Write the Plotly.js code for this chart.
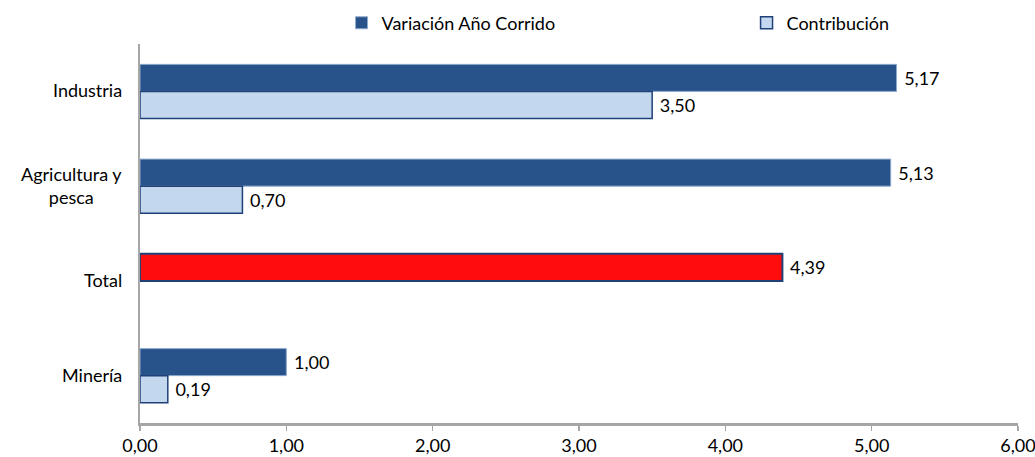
<!DOCTYPE html>
<html>
<head>
<meta charset="utf-8">
<script src="https://cdn.plot.ly/plotly-3.0.1.min.js"></script>
<style>html,body{margin:0;padding:0;background:#fff;}#chart{width:1035px;height:457px;}</style>
</head>
<body>
<div id="chart"></div>
<script>
// Data (top-to-bottom category order)
const categories = ["Industria", "Agricultura y<br>pesca", "Total", "Minería"];
const variacion = [5.17, 5.13, 4.39, 1.00];
const contribucion = [3.50, 0.70, null, 0.19];
const seriesNames = ["Variación Año Corrido", "Contribución"];
const xTicks = [0, 1, 2, 3, 4, 5, 6];

const DARK = "#28528A";
const LIGHT = "#C3D7EE";
const RED = "#FF0D0D";
const FONT = "Lato, 'Open Sans', sans-serif";
const FS = 18;

const darkFill = categories.map(c => c === "Total" ? RED : DARK);
const darkLine = categories.map(c => c === "Total" ? "#1F4178" : "#8FAAD0");
const darkLineW = categories.map(c => c === "Total" ? 2 : 1);

const fmt = v => v == null ? "" : "\u00a0" + v.toFixed(2).replace(".", ",");

const traces = [
  {
    type: "bar", orientation: "h", name: seriesNames[0],
    y: categories, x: variacion,
    marker: { color: darkFill, line: { color: darkLine, width: darkLineW } },
    text: variacion.map(fmt),
    textposition: "outside", cliponaxis: false,
    textfont: { family: FONT, size: FS, color: "#000" },
    hoverinfo: "skip"
  },
  {
    type: "bar", orientation: "h", name: seriesNames[1],
    y: categories, x: contribucion,
    marker: { color: LIGHT, line: { color: "#1F4178", width: 1.5 } },
    text: contribucion.map(fmt),
    textposition: "outside", cliponaxis: false,
    textfont: { family: FONT, size: FS, color: "#000" },
    hoverinfo: "skip"
  }
];

const annotations = categories.map(c => ({
  xref: "paper", yref: "y", x: 0, y: c, xanchor: "right", xshift: -16, yshift: 1,
  text: c, showarrow: false, align: "center",
  font: { family: FONT, size: FS, color: "#000" }
}));

const layout = {
  width: 1035, height: 457,
  margin: { l: 140, r: 17, t: 44, b: 34, pad: 0 },
  paper_bgcolor: "#fff", plot_bgcolor: "#fff",
  separators: ",.",
  font: { family: FONT, size: FS, color: "#000" },
  barmode: "group", bargap: 0.43, bargroupgap: 0,
  showlegend: true,
  legend: {
    orientation: "h", xref: "container", yref: "container",
    x: 0.33, xanchor: "left", y: 0.99, yanchor: "top",
    entrywidth: 360, entrywidthmode: "pixels", itemwidth: 30,
    font: { family: FONT, size: FS, color: "#000" },
    traceorder: "normal"
  },
  xaxis: {
    range: [0, 6], tickvals: xTicks, tickformat: ".2f",
    showgrid: false, zeroline: false,
    showline: true, linecolor: "#A6A6A6", linewidth: 2.5,
    ticks: "outside", ticklen: 5, tickcolor: "#A6A6A6", tickwidth: 1.5,
    tickfont: { family: FONT, size: FS, color: "#000" },
    ticklabeloverflow: "allow",
    fixedrange: true
  },
  yaxis: {
    type: "category", categoryorder: "array", categoryarray: categories,
    autorange: "reversed",
    showticklabels: false, showgrid: false, zeroline: false,
    showline: true, linecolor: "#A6A6A6", linewidth: 2,
    ticks: "", fixedrange: true
  },
  annotations: annotations
};

Plotly.newPlot("chart", traces, layout, { displayModeBar: false, staticPlot: true });
</script>
</body>
</html>
